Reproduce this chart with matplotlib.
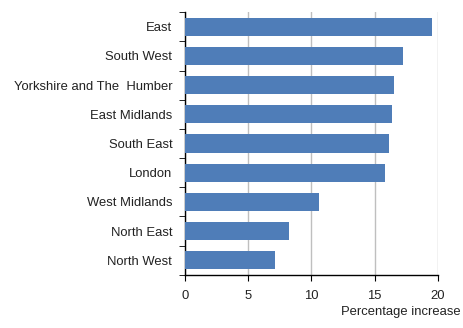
import matplotlib

matplotlib.use("Agg")
import matplotlib.pyplot as plt
import numpy as np

regions = ["East", "South West", "Yorkshire and The  Humber", "East Midlands",
           "South East", "London", "West Midlands", "North East", "North West"]
increase = [19.5, 17.2, 16.5, 16.4, 16.1, 15.8, 10.6, 8.2, 7.1]
x_ticks = [0, 5, 10, 15, 20]

plt.rcParams["font.family"] = ["Liberation Sans", "DejaVu Sans"]
plt.rcParams["font.size"] = 9.4

fig = plt.figure(figsize=(4.64, 3.28), dpi=100)
ax = fig.add_axes([0.398, 0.162, 0.546, 0.801])

pos = np.arange(len(regions))[::-1]
ax.barh(pos, increase, height=0.62, color="#4F7DB8", zorder=3)

ax.set_xlim(0, 20)
ax.set_ylim(-0.5, len(regions) - 0.5)
ax.set_xticks(x_ticks)
ax.xaxis.grid(True, color="#BFBFBF", linewidth=1, zorder=0)
ax.tick_params(axis="x", direction="out", length=4, color="black", pad=7, labelcolor="#222222")

ax.set_yticks(pos)
ax.set_yticklabels(regions, color="#222222")
ax.tick_params(axis="y", which="major", length=0, pad=9)
ax.set_yticks(np.arange(-0.5, len(regions)), minor=True)
ax.tick_params(axis="y", which="minor", direction="out", length=4, color="black")

for side in ("top", "right"):
    ax.spines[side].set_visible(False)
for side in ("left", "bottom"):
    ax.spines[side].set_color("black")
    ax.spines[side].set_linewidth(1)

fig.text(0.992, 0.03, "Percentage increase", ha="right", va="bottom", color="#222222")

fig.savefig("out.png", dpi=100)
